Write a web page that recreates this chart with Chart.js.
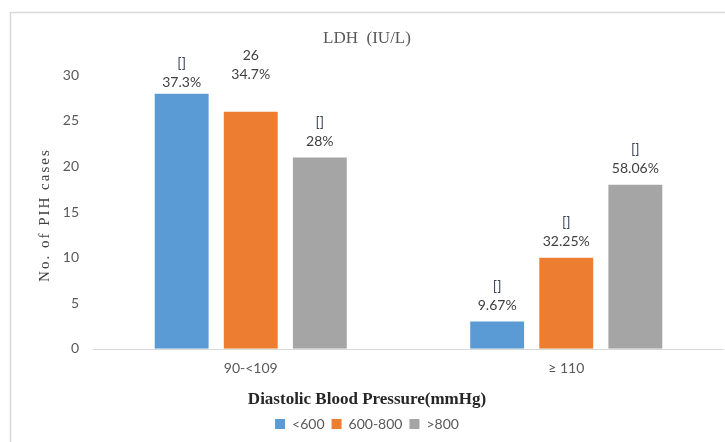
<!DOCTYPE html>
<html>
<head>
<meta charset="utf-8">
<script src="https://cdn.jsdelivr.net/npm/chart.js@4/dist/chart.umd.min.js"></script>
<style>
  html, body { margin: 0; padding: 0; background: #ffffff; }
  #wrap { width: 725px; height: 442px; }
</style>
</head>
<body>
<div id="wrap"><canvas id="c" width="725" height="442"></canvas></div>
<script>
// Diastolic blood pressure groups
const categories = ['90-<109', '\u2265 110'];
// LDH level series (IU/L)
const seriesNames = ['<600', '600-800', '>800'];
const lowLdh = [28, 3];
const midLdh = [26, 10];
const highLdh = [21, 18];
// Label lines shown above each bar: first line, then percentage
const topLines = [['[]', '[]'], ['26', '[]'], ['[]', '[]']];
const percentLines = [['37.3%', '9.67%'], ['34.7%', '32.25%'], ['28%', '58.06%']];
const yTicks = [0, 5, 10, 15, 20, 25, 30];
const yAxisTitle = 'No. of PIH cases';

const colors = ['#5B9BD5', '#ED7D31', '#A5A5A5'];
const sansFont = "'Lato', 'Liberation Sans', sans-serif";
const serifFont = "'Liberation Serif', 'DejaVu Serif', serif";

// Light frame around the chart and the zero baseline
const framePlugin = {
  id: 'frame',
  beforeDraw(chart) {
    const ctx = chart.ctx;
    ctx.save();
    ctx.strokeStyle = '#d9d9d9';
    ctx.lineWidth = 1.5;
    ctx.beginPath();
    ctx.moveTo(10.5, 442);
    ctx.lineTo(10.5, 12.5);
    ctx.lineTo(725, 12.5);
    ctx.stroke();
    const y0 = Math.round(chart.scales.y.getPixelForValue(0)) + 0.5;
    ctx.lineWidth = 1;
    ctx.beginPath();
    ctx.moveTo(chart.chartArea.left, y0);
    ctx.lineTo(chart.chartArea.right, y0);
    ctx.stroke();
    ctx.restore();
  }
};

// Rotated, letter-spaced value axis title
const yTitlePlugin = {
  id: 'yTitle',
  afterDraw(chart) {
    const ctx = chart.ctx;
    const area = chart.chartArea;
    ctx.save();
    ctx.font = '15px ' + serifFont;
    ctx.fillStyle = '#404040';
    ctx.letterSpacing = '2px';
    ctx.textAlign = 'center';
    ctx.textBaseline = 'middle';
    ctx.translate(45, (area.top + area.bottom) / 2 + 4);
    ctx.rotate(-Math.PI / 2);
    ctx.fillText(yAxisTitle, 1, 0);
    ctx.restore();
  }
};

// Two-line value labels above the bars
const barLabelPlugin = {
  id: 'barLabels',
  afterDatasetsDraw(chart, args, opts) {
    const ctx = chart.ctx;
    ctx.save();
    ctx.font = '14px ' + sansFont;
    ctx.textAlign = 'center';
    ctx.textBaseline = 'middle';
    chart.data.datasets.forEach((ds, di) => {
      const meta = chart.getDatasetMeta(di);
      meta.data.forEach((bar, i) => {
        const lift = (opts.lift && opts.lift[di + '-' + i]) || 0;
        const yPct = bar.y - 16 - lift;
        const yTop = yPct - 19;
        ctx.fillStyle = topLines[di][i] === '[]' ? '#3b4659' : '#404040';
        ctx.fillText(topLines[di][i], bar.x, yTop);
        ctx.fillStyle = '#404040';
        ctx.fillText(percentLines[di][i], bar.x, yPct);
      });
    });
    ctx.restore();
  }
};

const values = [lowLdh, midLdh, highLdh];

new Chart(document.getElementById('c'), {
  type: 'bar',
  data: {
    labels: categories,
    datasets: seriesNames.map((name, k) => ({
      label: name,
      data: values[k],
      backgroundColor: colors[k],
      borderWidth: 0,
      barPercentage: 0.78,
      categoryPercentage: 0.657
    }))
  },
  options: {
    responsive: false,
    animation: false,
    devicePixelRatio: 1,
    layout: { padding: { top: 12, left: 10, right: 1, bottom: 1 } },
    plugins: {
      title: {
        display: true,
        text: 'LDH  (IU/L)',
        color: '#595959',
        font: { family: serifFont, size: 17, weight: 'normal' },
        padding: { top: 16, bottom: 27 }
      },
      subtitle: {
        display: true,
        position: 'bottom',
        weight: 500,
        text: 'Diastolic Blood Pressure(mmHg)',
        color: '#262626',
        font: { family: serifFont, size: 17, weight: 'bold' },
        padding: { top: 2, bottom: 0 }
      },
      legend: {
        position: 'bottom',
        labels: {
          boxWidth: 10,
          boxHeight: 10,
          padding: 7,
          color: '#595959',
          font: { family: sansFont, size: 14 }
        }
      },
      tooltip: { enabled: false },
      barLabels: { lift: { '1-0': 21, '0-0': -5 } }
    },
    scales: {
      x: {
        grid: { display: false, drawTicks: false },
        border: { display: false },
        ticks: {
          padding: 11,
          color: '#595959',
          font: { family: sansFont, size: 14 }
        }
      },
      y: {
        min: 0,
        max: 30,
        afterBuildTicks(scale) {
          scale.ticks = yTicks.map(v => ({ value: v }));
        },
        afterFit(scale) { scale.width = 83; },
        grid: { display: false, drawTicks: false },
        border: { display: false },
        ticks: {
          padding: 14,
          color: '#595959',
          font: { family: sansFont, size: 14 }
        }
      }
    }
  },
  plugins: [framePlugin, barLabelPlugin, yTitlePlugin]
});
</script>
</body>
</html>
